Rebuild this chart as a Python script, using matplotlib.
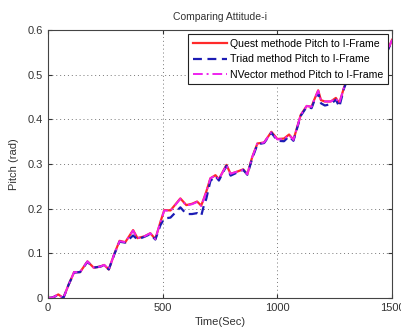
import matplotlib
matplotlib.use("Agg")
import matplotlib.pyplot as plt

plt.rcParams["font.family"] = ["Liberation Sans", "DejaVu Sans"]

# Sample times (s)
time_s = [0, 20, 45, 67, 90, 114, 140, 172, 199, 225, 245, 265, 290, 312, 337,
          371, 390, 420, 446, 468, 490, 507, 534, 577, 603, 628, 650, 668, 679,
          690, 708, 730, 745, 778, 796, 825, 851, 869, 890, 913, 942, 974, 1000,
          1029, 1051, 1070, 1102, 1128, 1149, 1160, 1178, 1190, 1207, 1233, 1255,
          1270, 1291, 1303, 1340, 1400, 1450, 1481, 1500]

# Pitch estimates (rad)
quest_pitch = [0.0, 0.001, 0.008, 0.0, 0.03, 0.058, 0.058, 0.082, 0.068, 0.07,
               0.074, 0.064, 0.1, 0.128, 0.125, 0.152, 0.134, 0.138, 0.145, 0.132,
               0.17, 0.197, 0.196, 0.223, 0.208, 0.211, 0.216, 0.207, 0.222,
               0.238, 0.268, 0.275, 0.266, 0.298, 0.278, 0.283, 0.288, 0.277,
               0.315, 0.346, 0.348, 0.372, 0.356, 0.357, 0.366, 0.354, 0.41,
               0.43, 0.428, 0.443, 0.465, 0.443, 0.44, 0.44, 0.448, 0.436, 0.472,
               0.488, 0.505, 0.525, 0.54, 0.555, 0.578]

triad_pitch = [0.0, 0.001, 0.007, 0.0, 0.03, 0.057, 0.058, 0.081, 0.068, 0.07,
               0.073, 0.064, 0.099, 0.126, 0.124, 0.14, 0.131, 0.137, 0.143, 0.131,
               0.163, 0.178, 0.18, 0.203, 0.188, 0.188, 0.19, 0.184, 0.206,
               0.222, 0.262, 0.273, 0.263, 0.296, 0.274, 0.281, 0.287, 0.276,
               0.312, 0.344, 0.347, 0.37, 0.352, 0.351, 0.362, 0.352, 0.408,
               0.428, 0.425, 0.44, 0.46, 0.436, 0.431, 0.434, 0.444, 0.428, 0.47,
               0.486, 0.504, 0.524, 0.539, 0.554, 0.577]

nvector_pitch = [0.0, 0.001, 0.008, 0.0, 0.03, 0.058, 0.058, 0.082, 0.068, 0.07,
                 0.074, 0.064, 0.1, 0.127, 0.125, 0.151, 0.134, 0.138, 0.145, 0.132,
                 0.17, 0.196, 0.195, 0.222, 0.207, 0.21, 0.215, 0.206, 0.221,
                 0.237, 0.268, 0.274, 0.266, 0.297, 0.278, 0.283, 0.287, 0.277,
                 0.315, 0.346, 0.348, 0.371, 0.355, 0.356, 0.365, 0.354, 0.41,
                 0.43, 0.428, 0.443, 0.464, 0.443, 0.44, 0.44, 0.447, 0.436, 0.472,
                 0.488, 0.505, 0.525, 0.54, 0.555, 0.578]

series_labels = ["Quest methode Pitch to I-Frame",
                 "Triad method Pitch to I-Frame",
                 "NVector method Pitch to I-Frame"]

x_ticks = [0, 500, 1000, 1500]
y_ticks = [0, 0.1, 0.2, 0.3, 0.4, 0.5, 0.6]

fig = plt.figure(figsize=(4.01, 3.29), dpi=100)
ax = fig.add_axes([0.1197, 0.0942, 0.858, 0.8146])

ax.plot(time_s, quest_pitch, color="#ff2a2a", lw=1.6, ls="-", label=series_labels[0])
ax.plot(time_s, triad_pitch, color="#1c1cb4", lw=1.6, ls=(0, (4, 2.5)), label=series_labels[1])
ax.plot(time_s, nvector_pitch, color="#ee22ee", lw=1.4, ls=(0, (5, 2, 1, 2)), label=series_labels[2])

ax.set_xlim(0, 1500)
ax.set_ylim(0, 0.6)
ax.set_xticks(x_ticks)
ax.set_yticks(y_ticks)
ax.set_xticklabels([str(v) for v in x_ticks])
ax.set_yticklabels(["0", "0.1", "0.2", "0.3", "0.4", "0.5", "0.6"])
ax.tick_params(direction="in", length=3, labelsize=8, colors="#333333",
               top=True, right=True, labeltop=False, labelright=False)
ax.grid(True, ls=(0, (1, 3)), color="#777777", lw=0.7)
for sp in ax.spines.values():
    sp.set_color("#444444")
    sp.set_linewidth(0.8)

ax.set_title("Comparing Attitude-i", fontsize=7.5, color="#333333", pad=7)
ax.set_xlabel("Time(Sec)", fontsize=8, color="#333333", labelpad=3)
ax.set_ylabel("Pitch (rad)", fontsize=8, color="#333333", labelpad=6)

leg = ax.legend(loc="upper right", fontsize=7.6, frameon=True, fancybox=False,
                handlelength=3.2, handletextpad=0.3, borderpad=0.45,
                labelspacing=0.5, borderaxespad=0.4, framealpha=1)
leg.get_frame().set_edgecolor("#222222")
leg.get_frame().set_linewidth(0.8)

fig.savefig("out.png", dpi=100)
